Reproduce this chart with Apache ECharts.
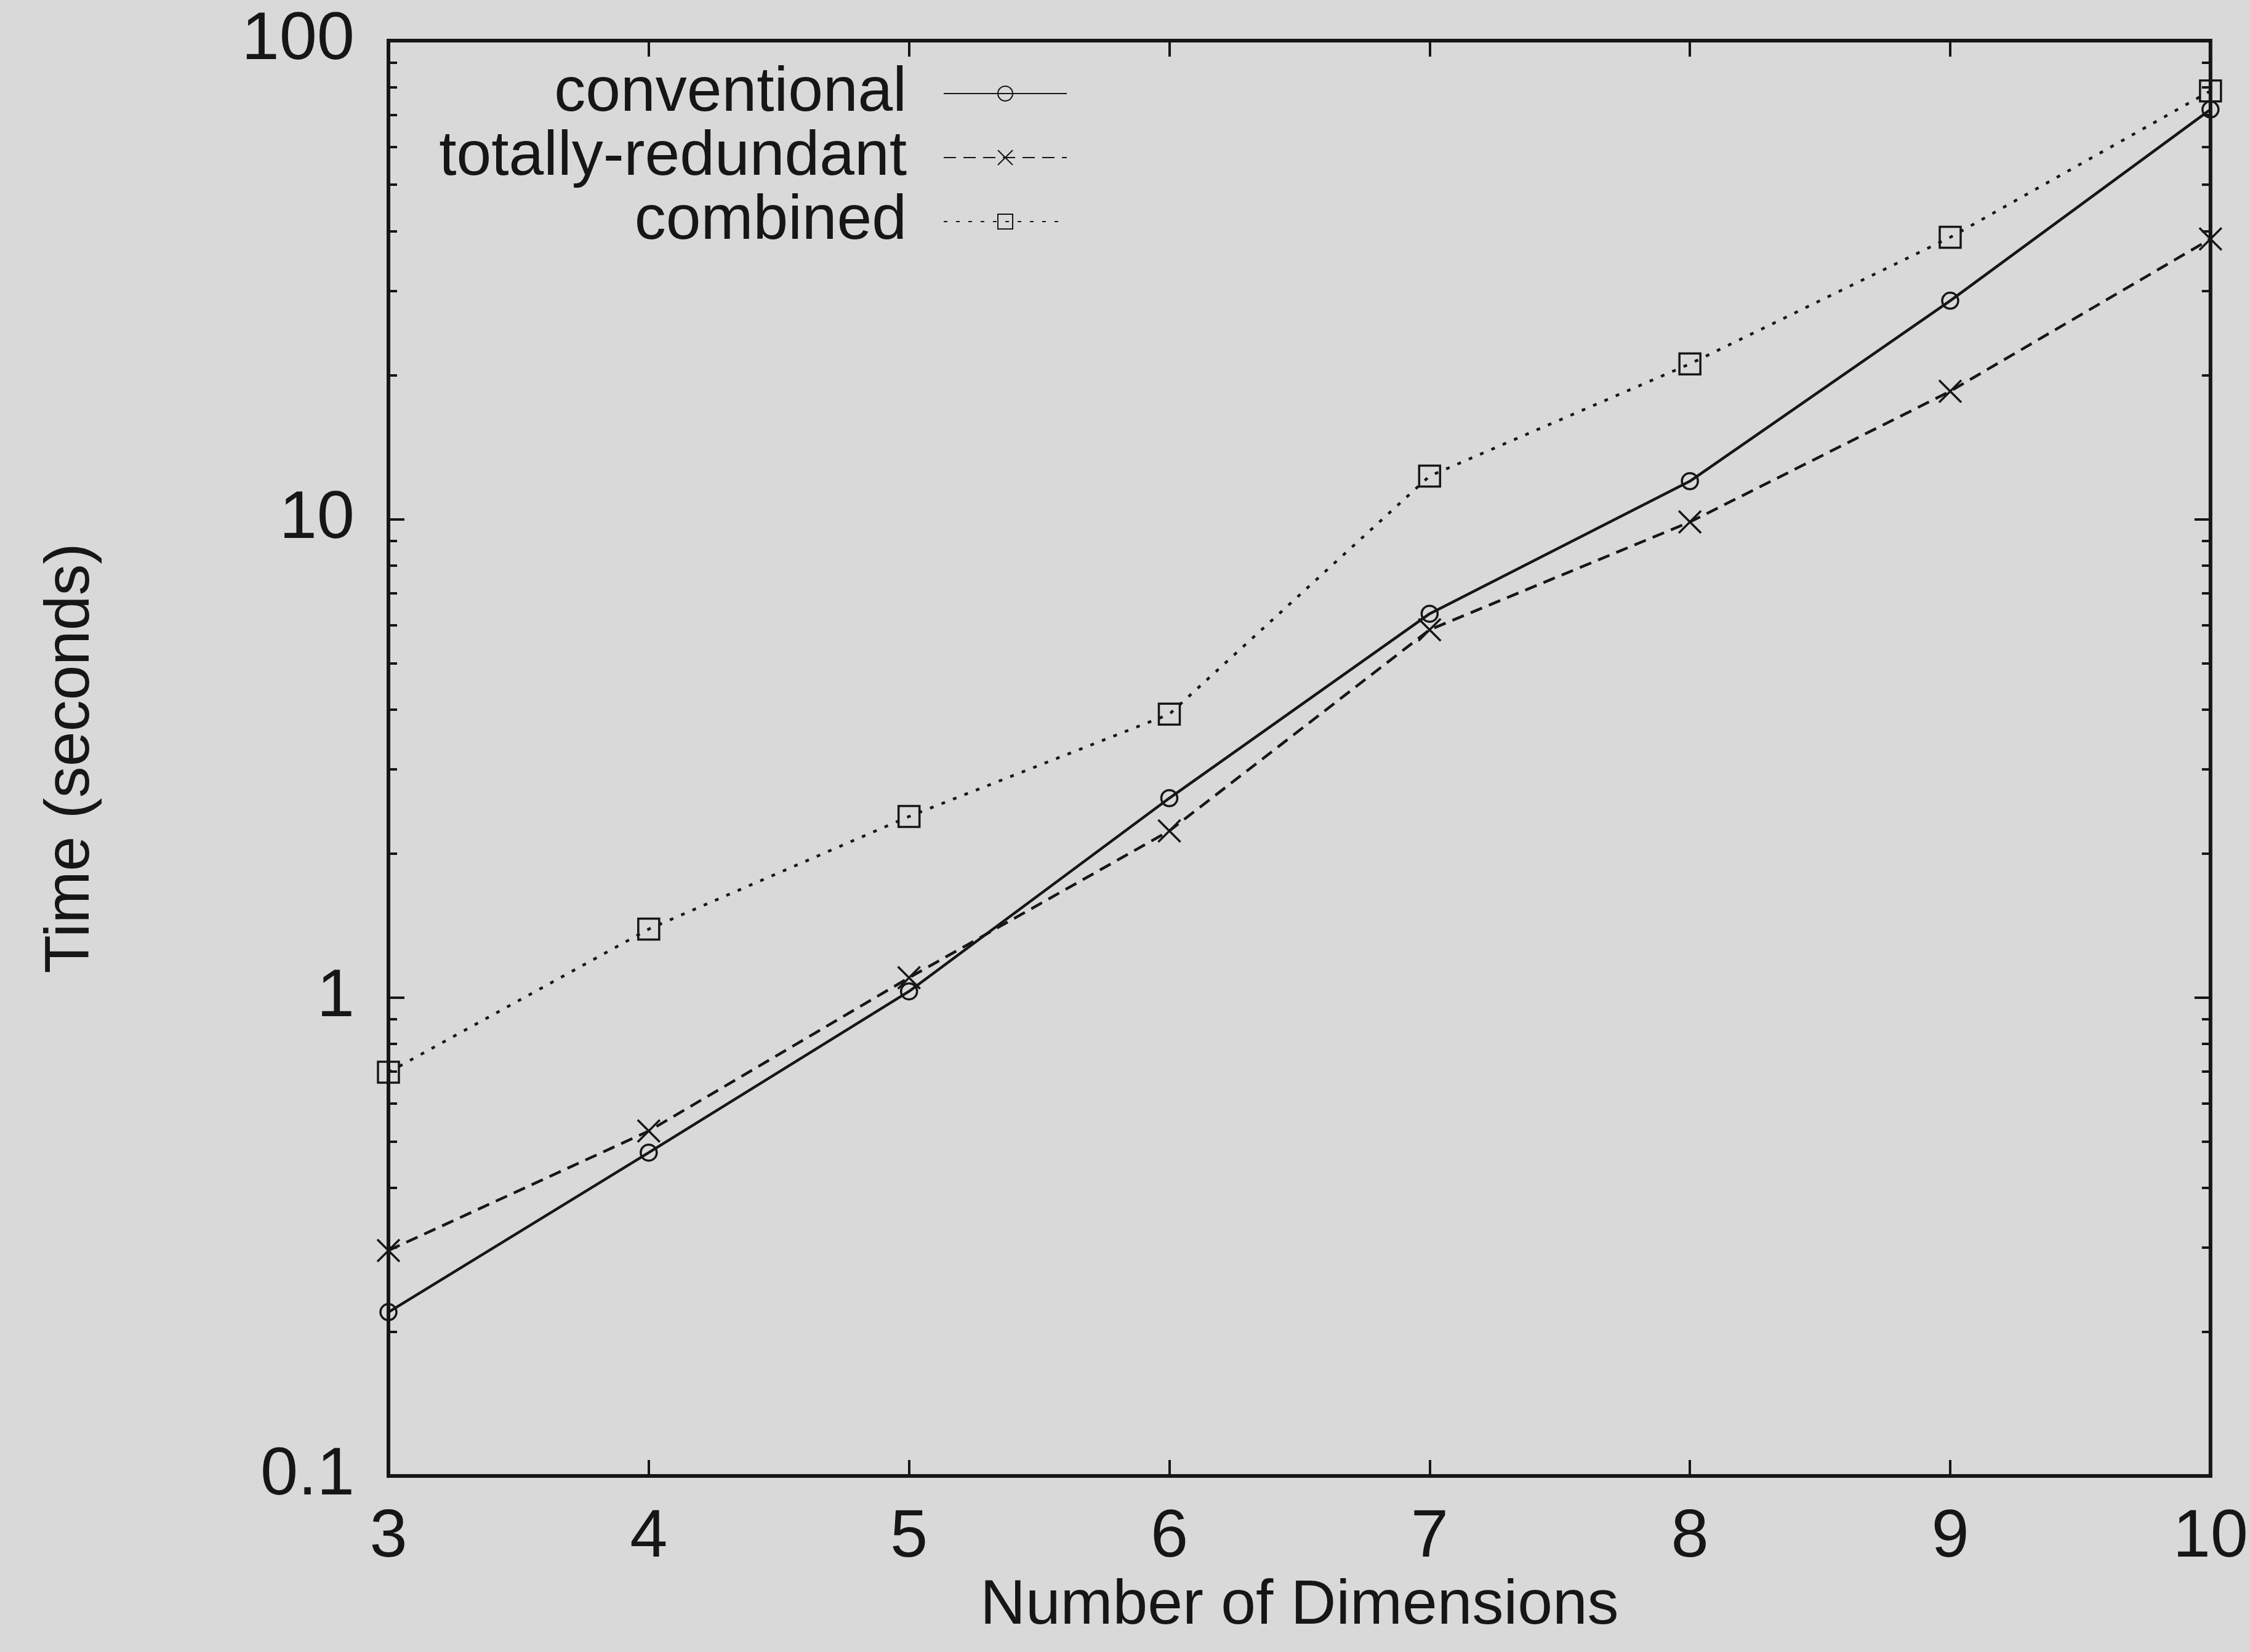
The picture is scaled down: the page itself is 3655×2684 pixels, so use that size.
<!DOCTYPE html>
<html><head><meta charset="utf-8">
<script src="https://cdn.jsdelivr.net/npm/echarts@6/dist/echarts.min.js"></script>
<style>html,body{margin:0;padding:0;background:#d9d9d9}#c{width:3655px;height:2684px}</style>
</head><body><div id="c"></div>
<script>
const dimensions = [3, 4, 5, 6, 7, 8, 9, 10];
const conventional = [0.22, 0.474, 1.03, 2.61, 6.34, 12.0, 28.6, 71.8];
const totallyRedundant = [0.296, 0.526, 1.10, 2.23, 5.87, 9.86, 18.5, 38.5];
const combined = [0.698, 1.39, 2.39, 3.91, 12.3, 21.1, 38.8, 78.5];
const yMajorTicks = [0.1, 1, 10, 100];
const yMinorTicks = [0.2,0.3,0.4,0.5,0.6,0.7,0.8,0.9,2,3,4,5,6,7,8,9,20,30,40,50,60,70,80,90];
const seriesNames = ['conventional', 'totally-redundant', 'combined'];

const FONT = "'Liberation Sans', Arial, sans-serif";
const INK = '#161616';
const chart = echarts.init(document.getElementById('c'), null, {renderer: 'canvas'});
const pairs = arr => dimensions.map((d, i) => [d, arr[i]]);
const X_PATH = 'path://M0,0L10,10M10,0L0,10';

function yAx(pos, custom, len, labels) {
  return {
    type: 'log', logBase: 10, min: 0.1, max: 100, position: pos,
    axisLine: {show: pos === 'left' && labels, lineStyle: {color: INK, width: 6}},
    axisTick: {show: true, inside: true, length: len, customValues: custom, lineStyle: {color: INK, width: 4}},
    axisLabel: {show: labels, customValues: labels ? yMajorTicks : undefined, margin: 55, fontSize: 110, color: INK, fontFamily: FONT},
    splitLine: {show: false}, minorTick: {show: false},
    name: labels ? 'Time (seconds)' : '', nameLocation: 'middle', nameGap: 464,
    nameTextStyle: {fontSize: 102, color: INK, fontFamily: FONT}
  };
}

const option = {
  backgroundColor: '#d9d9d9',
  animation: false,
  grid: {left: 631, right: 63, top: 66, bottom: 286, show: true, borderColor: INK, borderWidth: 6, backgroundColor: 'transparent'},
  legend: {
    orient: 'vertical', align: 'right', right: 1916, top: 95,
    itemWidth: 200, itemHeight: 30, itemGap: 0,
    data: seriesNames,
    textStyle: {fontSize: 102, lineHeight: 104, color: INK, fontFamily: FONT, padding: [0, 55, 0, 0]}
  },
  xAxis: [
    {type: 'value', min: 3, max: 10, interval: 1, position: 'bottom',
     axisLine: {show: true, lineStyle: {color: INK, width: 6}},
     axisTick: {inside: true, length: 26, lineStyle: {color: INK, width: 4}},
     axisLabel: {margin: 46, fontSize: 110, color: INK, fontFamily: FONT},
     splitLine: {show: false},
     name: 'Number of Dimensions', nameLocation: 'middle', nameGap: 156,
     nameTextStyle: {fontSize: 102, color: INK, fontFamily: FONT}},
    {type: 'value', min: 3, max: 10, interval: 1, position: 'top',
     axisLine: {show: false}, axisTick: {inside: true, length: 26, lineStyle: {color: INK, width: 4}},
     axisLabel: {show: false}, splitLine: {show: false}}
  ],
  yAxis: [
    yAx('left', yMajorTicks, 26, true),
    yAx('left', yMinorTicks, 14, false),
    yAx('right', yMajorTicks, 26, false),
    yAx('right', yMinorTicks, 14, false)
  ],
  series: [
    {name: seriesNames[0], type: 'line', data: pairs(conventional), symbol: 'circle', symbolSize: 26,
     lineStyle: {color: INK, width: 4.5, type: 'solid'},
     itemStyle: {color: 'rgba(0,0,0,0)', borderColor: INK, borderWidth: 3.5}},
    {name: seriesNames[1], type: 'line', data: pairs(totallyRedundant), symbol: X_PATH, symbolSize: 36,
     lineStyle: {color: INK, width: 4.5, type: [20, 12]},
     itemStyle: {color: 'rgba(0,0,0,0)', borderColor: INK, borderWidth: 3.5}},
    {name: seriesNames[2], type: 'line', data: pairs(combined), symbol: 'rect', symbolSize: 34,
     lineStyle: {color: INK, width: 4.5, type: [6, 14]},
     itemStyle: {color: 'rgba(0,0,0,0)', borderColor: INK, borderWidth: 3.5}}
  ]
};
chart.setOption(option);
</script></body></html>
